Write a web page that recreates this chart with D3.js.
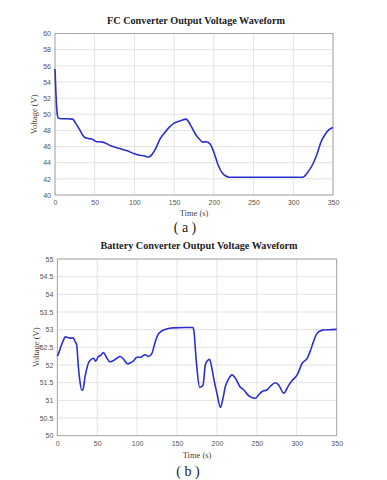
<!DOCTYPE html>
<html><head><meta charset="utf-8">
<script src="https://cdn.jsdelivr.net/npm/d3@7"></script>
<style>body{margin:0;background:#fff}svg{display:block}</style>
</head><body>
<script>
const xTicks = [0,50,100,150,200,250,300,350];
const fcTicks = [40,42,44,46,48,50,52,54,56,58,60];
const batTicks = [50,50.5,51,51.5,52,52.5,53,53.5,54,54.5,55];
const batTickLabels = ["50","50.5","51","51.5","52","52.5","53","53.5","54","54.5","55"];

const fcTime = [0,1,2,3,4.5,8,15,22,26,31,35,38,42,47,52,56,60,63,70,80,90,100,105,112,118,122,127,132,138,145,150,158,165,168,172,177,182,186,190,193,196,200,205,210,215,219,240,280,312,318,325,330,335,340,345,350];
const fcVolt = [55.6,53.0,51.0,49.9,49.5,49.45,49.45,49.4,48.9,48.1,47.4,47.1,47.0,46.9,46.6,46.6,46.55,46.45,46.1,45.8,45.5,45.1,44.95,44.85,44.7,45.0,45.8,46.9,47.7,48.5,48.9,49.2,49.4,49.1,48.4,47.5,46.9,46.55,46.6,46.5,46.2,45.3,43.8,42.8,42.35,42.2,42.2,42.2,42.2,42.8,43.9,45.1,46.6,47.5,48.1,48.35];

const batTime = [0,2,5,8,10,13,17,20,22,24.3,26.4,28,30.6,32,34.8,38.9,42,45.2,48,51.4,54,57.7,62,66,70,74.5,78.7,82.8,88.3,92,95.5,99.7,104,110,114.3,118.5,122.7,126,130,137,145,160,170,171.5,173,175,178.3,182.5,185.4,188,190.8,193.7,197,200,204.2,207,210.5,215,218.9,223,229.3,233.5,238,241.9,248.2,252,256.6,262.9,267,273.3,277.5,283.7,290,295,300.5,306.8,313,317,320,325,331,340,350];
const batVolt = [52.25,52.35,52.55,52.72,52.8,52.78,52.76,52.77,52.68,52.57,51.95,51.6,51.29,51.3,51.67,52.05,52.15,52.19,52.11,52.24,52.27,52.35,52.2,52.09,52.12,52.19,52.24,52.17,52.03,52.07,52.12,52.22,52.22,52.29,52.24,52.33,52.66,52.85,52.95,53.02,53.05,53.06,53.06,52.9,52.43,51.9,51.37,51.43,52.0,52.12,52.16,51.9,51.5,51.2,50.8,51.0,51.39,51.62,51.72,51.63,51.37,51.3,51.17,51.1,51.06,51.15,51.25,51.3,51.4,51.5,51.43,51.2,51.43,51.58,51.72,52.05,52.19,52.4,52.6,52.88,52.98,53.0,53.01];

const W = 387, H = 480;
const svg = d3.select("body").append("svg").attr("width", W).attr("height", H);

function panel(cfg) {
  const {left,right,top,bottom,yDomain,yTicks,yLabels,time,volt,title,titleY,sub,subY,xLabelY} = cfg;
  const x = d3.scaleLinear().domain([0,350]).range([left,right]);
  const y = d3.scaleLinear().domain(yDomain).range([bottom,top]);
  const g = svg.append("g");
  // grid
  g.selectAll("line.vg").data(xTicks).join("line")
    .attr("x1", d=>x(d)).attr("x2", d=>x(d)).attr("y1", top).attr("y2", bottom)
    .attr("stroke", "#dcdcdc").attr("stroke-width", 0.8);
  g.selectAll("line.hg").data(yTicks).join("line")
    .attr("y1", d=>y(d)).attr("y2", d=>y(d)).attr("x1", left).attr("x2", right)
    .attr("stroke", "#dcdcdc").attr("stroke-width", 0.8);
  // axes
  const xa = g.append("g").attr("transform", `translate(0,${bottom})`)
    .call(d3.axisBottom(x).tickValues(xTicks).tickSize(0).tickPadding(5));
  const ya = g.append("g").attr("transform", `translate(${left},0)`)
    .call(d3.axisLeft(y).tickValues(yTicks).tickFormat((d,i)=>yLabels[i]).tickSize(0).tickPadding(4));
  [xa,ya].forEach(a=>{
    a.select(".domain").remove();
    a.selectAll("text").attr("font-family","Liberation Sans, Arial, sans-serif")
      .attr("font-size",7).attr("fill","#555");
  });
  g.append("rect").attr("x", left).attr("y", top).attr("width", right-left).attr("height", bottom-top)
    .attr("fill","none").attr("stroke","#9a9a9a").attr("stroke-width",0.8);
  // line
  const line = d3.line().x((d,i)=>x(time[i])).y(d=>y(d)).curve(d3.curveMonotoneX);
  g.append("path").datum(volt).attr("d", line).attr("fill","none")
    .attr("stroke","#2b2fd0").attr("stroke-width",1.6).attr("stroke-linejoin","round");
  // texts
  g.append("text").attr("x",(left+right)/2+2).attr("y",titleY).attr("text-anchor","middle")
    .attr("font-family","Liberation Serif, Times New Roman, serif").attr("font-weight","bold")
    .attr("font-size",10.2).attr("fill","#222").text(title);
  g.append("text").attr("x",(left+right)/2).attr("y",xLabelY).attr("text-anchor","middle")
    .attr("font-family","Liberation Serif, Times New Roman, serif")
    .attr("font-size",8.5).attr("fill","#444").text("Time (s)");
  g.append("text").attr("transform",`translate(${left-18},${(top+bottom)/2}) rotate(-90)`)
    .attr("text-anchor","middle")
    .attr("font-family","Liberation Serif, Times New Roman, serif")
    .attr("font-size",8.5).attr("fill","#444").text("Voltage (V)");
  g.append("text").attr("x",(left+right)/2-9).attr("y",subY).attr("text-anchor","middle")
    .attr("font-family","Liberation Serif, Times New Roman, serif")
    .attr("font-size",14).attr("fill","#222").text(sub);
}

panel({left:55,right:333,top:33.5,bottom:195,yDomain:[40,60],yTicks:fcTicks,yLabels:fcTicks.map(String),
  time:fcTime,volt:fcVolt,title:"FC Converter Output Voltage Waveform",titleY:24,sub:"( a )",subY:232,xLabelY:216});
panel({left:57.3,right:336.7,top:259,bottom:435.7,yDomain:[50,55],yTicks:batTicks,yLabels:batTickLabels,
  time:batTime,volt:batVolt,title:"Battery Converter Output Voltage Waveform",titleY:249,sub:"( b )",subY:476,xLabelY:458});
</script>
</body></html>
